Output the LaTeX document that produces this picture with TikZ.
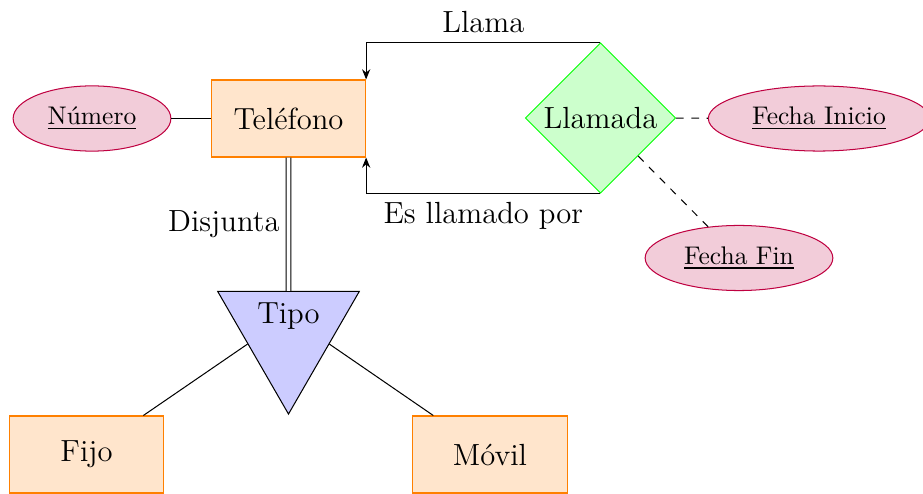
\documentclass[tikz,border=0pt]{standalone}
\usetikzlibrary{shapes.geometric,arrows.meta}
\begin{document}
\begin{tikzpicture}[x=0.3922pt,y=-0.3922pt,
 entity/.style={draw=orange,fill=orange!20,minimum width=60.5pt,minimum height=30.2pt,font=\large},
 attr/.style={ellipse,draw=purple,fill=purple!20,inner sep=4.5pt},
 rel/.style={diamond,aspect=1,draw=green,fill=green!20,inner sep=0pt,minimum size=59pt,font=\large},
 isa/.style={isosceles triangle,isosceles triangle apex angle=60,shape border rotate=-90,draw=black,fill=blue!20,inner sep=4.4pt,font=\large},
 lbl/.style={font=\large},
 arr/.style={-{Stealth[length=4pt,width=3.2pt,inset=1.3pt]}}]
\useasboundingbox (0,0) rectangle (923,494);
\node[entity] (telefono) at (288.5,118.5) {Teléfono};
\node[attr] (numero) at (92,118.5) {\underline{Número}};
\node[rel] (llamada) at (600.5,118) {Llamada};
\node[attr] (fechainicio) at (819,118.5) {\underline{Fecha Inicio}};
\node[attr] (fechafin) at (739,258) {\underline{Fecha Fin}};
\node[isa] (tipo) at (288.5,316) {Tipo};
\node[entity] (fijo) at (86.5,454.5) {Fijo};
\node[entity] (movil) at (490,454.5) {Móvil};
\draw[arr] (llamada.north) -| node[pos=0.25,above,lbl]{Llama} (telefono.north east);
\draw[arr] (llamada.south) -| node[pos=0.25,below,lbl]{Es llamado por} (telefono.south east);
\draw[double,double distance=1.5pt] (telefono) -- node[left,lbl]{Disjunta} (tipo);
\draw (numero) -- (telefono);
\draw[dashed] (llamada) -- (fechainicio);
\draw[dashed] (llamada) -- (fechafin);
\draw (tipo) -- (fijo);
\draw (tipo) -- (movil);
\end{tikzpicture}
\end{document}
